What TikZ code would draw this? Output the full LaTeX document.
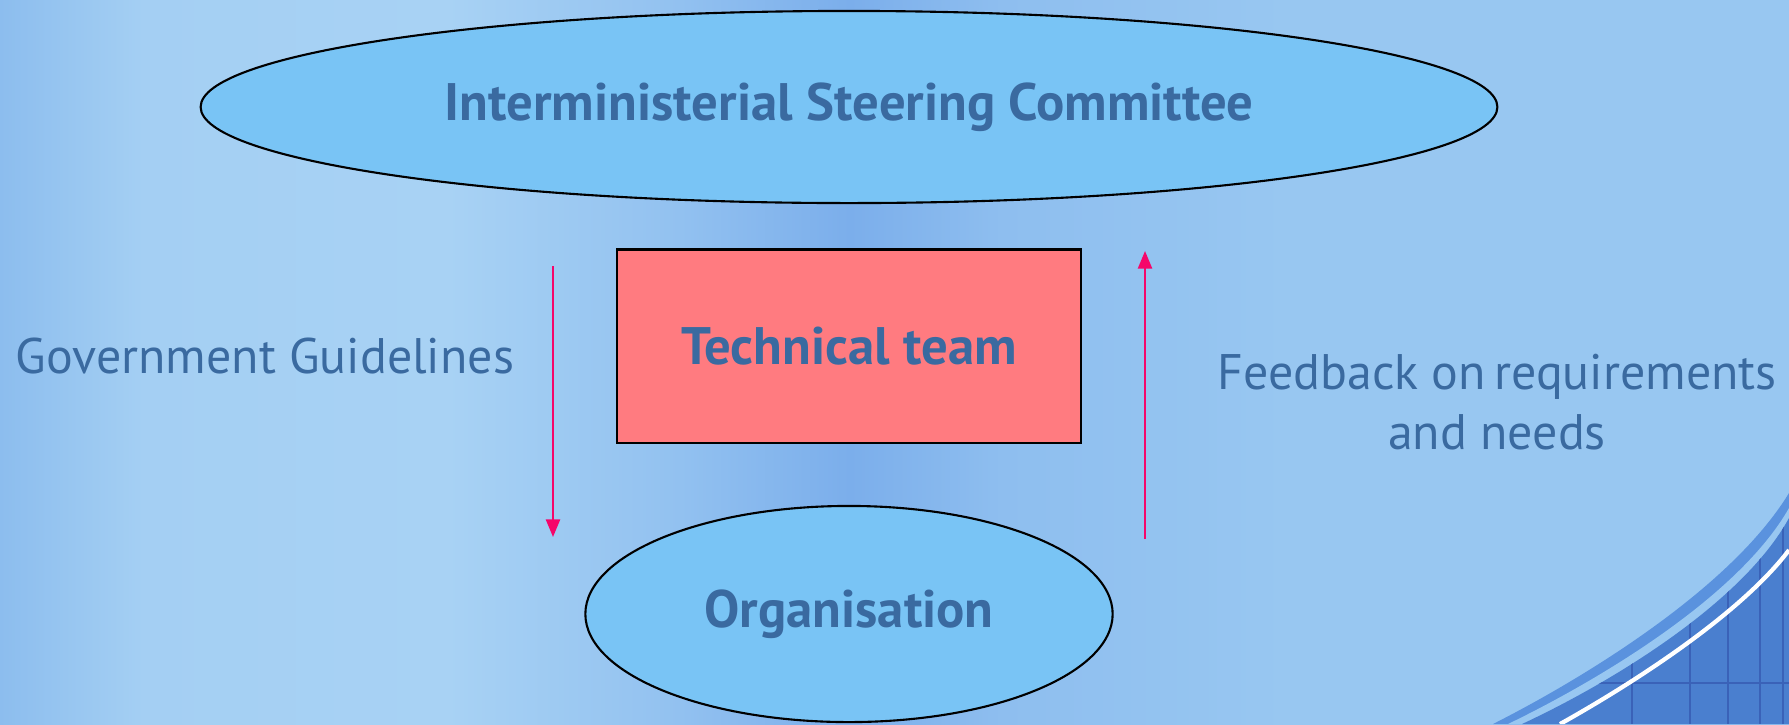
\documentclass[tikz,border=0pt]{standalone}
\usepackage{fontspec}
\setmainfont{PT Sans}
\usepackage{tikz}
\usetikzlibrary{arrows.meta,positioning,shapes.geometric}

\definecolor{testo}{HTML}{3A6AA0}
\definecolor{cielo}{HTML}{79C4F5}
\definecolor{salmone}{HTML}{FF7B80}
\definecolor{freccia}{HTML}{F5066A}
\definecolor{bgA}{HTML}{8CBDEE}
\definecolor{bgB}{HTML}{A4CFF3}
\definecolor{bgC}{HTML}{A8D2F4}
\definecolor{bgD}{HTML}{92C1F0}
\definecolor{bgE}{HTML}{7BAEEB}
\definecolor{bgF}{HTML}{8EBEEF}
\definecolor{bgG}{HTML}{98C7F1}
\definecolor{edA}{HTML}{5A92DE}
\definecolor{edB}{HTML}{4A7FCF}
\definecolor{edC}{HTML}{3A62B8}

% i bordi del rettangolo cadono a 25bp e 75bp
\pgfdeclarehorizontalshading{sfondo}{100bp}{color(0bp)=(bgA); color(25bp)=(bgA);
  color(29bp)=(bgB); color(37.5bp)=(bgC); color(44bp)=(bgD); color(48.75bp)=(bgE);
  color(53bp)=(bgF); color(61bp)=(bgG); color(75bp)=(bgG); color(100bp)=(bgG)}

\tikzset{
  ovale/.style={ellipse, draw=black, line width=0.6pt, fill=cielo, inner sep=0pt,
    font=\bfseries\fontsize{15}{18}\selectfont, text=testo},
  scatola/.style={rectangle, draw=black, line width=0.6pt, fill=salmone, inner sep=0pt,
    font=\bfseries\fontsize{15}{18}\selectfont, text=testo},
  etichetta/.style={font=\fontsize{14.2}{17}\selectfont, text=testo, align=center},
  flusso/.style={freccia, line width=0.6pt, -{Triangle[length=5pt,width=4pt]}}
}

\begin{document}
\begin{tikzpicture}[x=0.01cm,y=-0.01cm]
            % Sfondo
            \useasboundingbox (0,0) rectangle (1789,724);
            \shade[shading=sfondo] (0,0) rectangle (1789,724);

            % Angolo in basso a destra
            \begin{scope}
            \clip (0,0) rectangle (1789,724);
            \fill[edA] (1493,724) .. controls (1580,680) and (1730,590) .. (1789,493) -- (1789,724) -- cycle;
            \fill[bgG] (1508,724) .. controls (1595,682) and (1738,598) .. (1789,508) -- (1789,724) -- cycle;
            \fill[edB] (1522,724) .. controls (1608,684) and (1742,604) .. (1789,518) -- (1789,724) -- cycle;
            \clip (1522,724) .. controls (1608,684) and (1742,604) .. (1789,518) -- (1789,724) -- cycle;
            \foreach \x in {1632,1690,1728,1760,1783}
            \draw[edC, line width=0.8pt] (\x,480) -- (\x,724);
            \draw[edC, line width=0.5pt] (1450,683) -- (1789,683);
            \draw[white, line width=1.2pt] (1560,724) .. controls (1630,685) and (1740,615) .. (1789,550);
            \end{scope}

            % Nodi
            \node[ovale, minimum width=12.96cm, minimum height=1.92cm] (comitato) at (849,107)
            {Interministerial Steering Committee};
            \node[scatola, minimum width=4.64cm, minimum height=1.93cm] (team) at (849,346)
            {Technical team};
            \node[ovale, minimum width=5.27cm, minimum height=2.16cm] (org) at (849,614)
            {Organisation};

            % Etichette
            \node[etichetta] (linee) at (265,356) {Government Guidelines};
            \node[etichetta] (feedback) at (1497,402) {Feedback on\,requirements\\and needs};

            % Frecce
            \coordinate (giuA) at (553,266);
            \coordinate (giuB) at (553,537);
            \coordinate (suA) at (1145,539);
            \coordinate (suB) at (1145,251);
            \draw[flusso] (giuA) -- (giuB);
            \draw[flusso] (suA) -- (suB);
        \end{tikzpicture}
\end{document}
